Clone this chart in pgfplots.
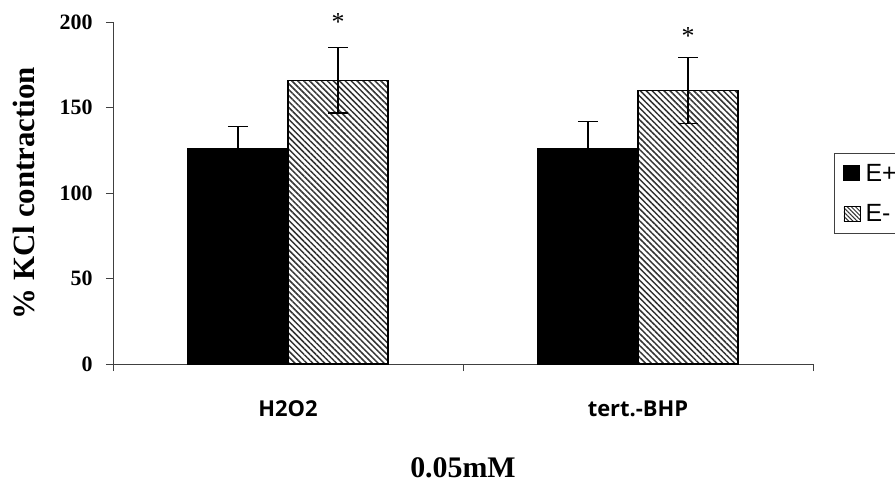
\documentclass[border=0pt]{standalone}
\usepackage{fontspec}
\setmainfont{Liberation Serif}
\newfontfamily\catfont{Open Sans}
\newfontfamily\legfont{Liberation Sans}
\usepackage{pgfplots}
\pgfplotsset{compat=1.18}
\usetikzlibrary{patterns.meta}

\newcommand{\legtext}{\legfont\fontsize{25}{27}\selectfont}

\begin{document}
\begin{tikzpicture}
\begin{axis}[
  at={(113bp,120bp)}, anchor=south west,
  scale only axis, width=700bp, height=342bp,
  xmin=-0.5, xmax=1.5, ymin=0, ymax=200,
  clip=false,
  axis x line=bottom, axis y line=left,
  axis line style={-, line width=0.8bp, black!75},
  tick align=outside,
  every tick/.style={black!75, line width=0.8bp},
  major tick length=7bp,
  xtick={-0.5,0.5,1.5}, xticklabels={},
  extra x ticks={0,1}, extra x tick labels={H2O2,tert.-BHP},
  extra x tick style={major tick length=0pt,
    tick label style={font=\catfont\bfseries\fontsize{22}{24}\selectfont, yshift=-33bp}},
  ytick={0,50,100,150,200},
  /pgf/number format/assume math mode=true,
  yticklabel style={font=\bfseries\fontsize{22}{24}\selectfont, xshift=-10bp},
  ylabel={\% KCl contraction},
  ylabel style={font=\bfseries\fontsize{31}{33}\selectfont,
    at={(axis description cs:-0.127,0.5)}, anchor=center},
  xlabel={0.05mM},
  xlabel style={font=\bfseries\fontsize{30}{32}\selectfont,
    at={(axis description cs:0.5,-0.304)}, anchor=center},
  legend style={at={(rel axis cs:1.03,0.617)}, anchor=north west,
    draw=black!75, line width=0.8bp,
    nodes={font=\legtext},
    row sep=18bp, inner xsep=9bp, inner ysep=8.5bp},
  legend cell align=left,
]
% E+ (black)
\addplot[ybar, bar width=100bp, bar shift=0pt, fill=black, draw=black, line width=1bp,
  legend image code/.code={\draw[fill=black,draw=black] (0bp,-7.5bp) rectangle (16bp,7.5bp);
    \path (19bp,0bp);},
  error bars/.cd, y dir=plus, y explicit,
  error bar style={line width=1.2bp, black},
  error mark options={rotate=90, mark size=10bp, line width=1.2bp, black}]
  coordinates {(-0.1429,126.3) +- (0,12.4) (0.8571,126.0) +- (0,16.0)};
\addlegendentry{E+}
% E- (hatched)
\addplot[ybar, bar width=100bp, bar shift=0pt, draw=black, line width=1.2bp,
  pattern={Lines[angle=-45, distance=4.2bp, line width=1.5bp]}, pattern color=black!80,
  legend image code/.code={\draw[draw=black, line width=0.8bp,
     pattern={Lines[angle=-45, distance=3bp, line width=1bp]}, pattern color=black!80]
     (0bp,-7.5bp) rectangle (16bp,7.5bp);
    \path (19bp,0bp);},
  error bars/.cd, y dir=both, y explicit,
  error bar style={line width=1.2bp, black},
  error mark options={rotate=90, mark size=10bp, line width=1.2bp, black}]
  coordinates {(0.1429,166.0) +- (0,19.2) (1.1429,160.0) +- (0,19.3)};
\addlegendentry{E-}
\node[font=\fontsize{26}{26}\selectfont] at (axis cs:0.1429,200) {*};
\node[font=\fontsize{26}{26}\selectfont] at (axis cs:1.1429,191.8) {*};
\end{axis}
\pgfresetboundingbox
\useasboundingbox (0,0) rectangle (895bp,484bp);
\end{tikzpicture}
\end{document}
